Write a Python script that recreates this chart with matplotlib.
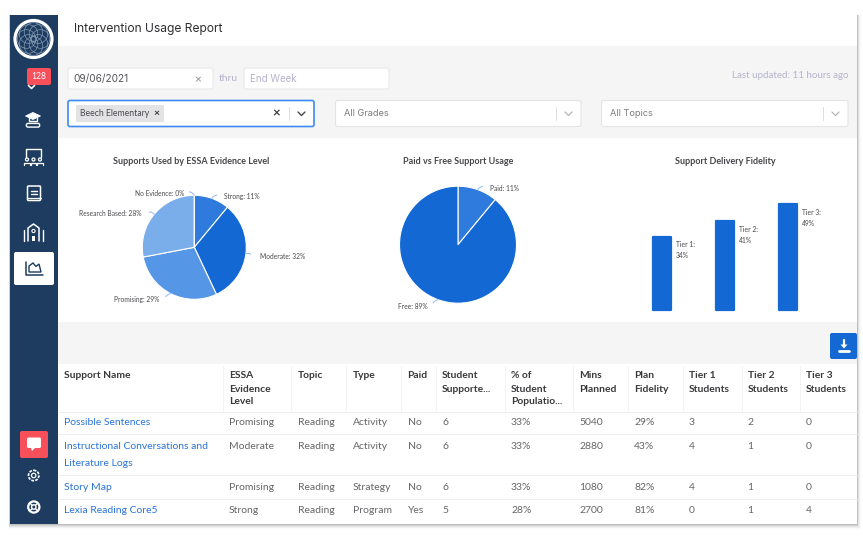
import numpy as np
import matplotlib
matplotlib.use("Agg")
import matplotlib.pyplot as plt
from matplotlib.patches import FancyBboxPatch, Rectangle, Circle, Polygon

# ---------- data ----------
evidence_labels = ["Strong", "Moderate", "Promising", "Research Based", "No Evidence"]
evidence_values = [11, 32, 29, 28, 0]
paid_labels = ["Paid", "Free"]
paid_values = [11, 89]
tier_labels = ["Tier 1", "Tier 2", "Tier 3"]
tier_values = [34, 41, 49]

table_headers = [["Support Name"], ["ESSA", "Evidence", "Level"], ["Topic"], ["Type"], ["Paid"],
                 ["Student", "Supporte..."], ["% of", "Student", "Populatio..."], ["Mins", "Planned"],
                 ["Plan", "Fidelity"], ["Tier 1", "Students"], ["Tier 2", "Students"], ["Tier 3", "Students"]]
row_1 = [["Possible Sentences"], "Promising", "Reading", "Activity", "No", "6", "33%", "5040", "29%", "3", "2", "0"]
row_2 = [["Instructional Conversations and", "Literature Logs"], "Moderate", "Reading", "Activity", "No", "6", "33%", "2880", "43%", "4", "1", "0"]
row_3 = [["Story Map"], "Promising", "Reading", "Strategy", "No", "6", "33%", "1080", "82%", "4", "1", "0"]
row_4 = [["Lexia Reading Core5"], "Strong", "Reading", "Program", "Yes", "5", "28%", "2700", "81%", "0", "1", "4"]

# ---------- styling ----------
W, H = 863, 540
NAVY = "#1d3c60"
BLUE = "#1368d4"
BLUE2 = "#2f7bdd"
BLUE3 = "#5596e6"
BLUE4 = "#7aaeea"
RED = "#f8505a"
GREY = "#f5f5f6"
DARK = "#3a3a3d"
MID = "#66666a"
LINK = "#2a74d8"
LILAC = "#b5b3cc"
BODY = "Lato"
UI = "Inter"

fig = plt.figure(figsize=(W / 100, H / 100), dpi=100, facecolor="white")
bg = fig.add_axes([0, 0, 1, 1], zorder=0)
bg.set_xlim(0, W)
bg.set_ylim(H, 0)
bg.axis("off")


def rect(x0, y0, x1, y1, color, z=1, **kw):
    bg.add_patch(Rectangle((x0, y0), x1 - x0, y1 - y0, facecolor=color, edgecolor="none", zorder=z, **kw))


def rbox(x0, y0, x1, y1, fc, ec="none", lw=0.8, r=2, z=2):
    bg.add_patch(FancyBboxPatch((x0 + r, y0 + r), x1 - x0 - 2 * r, y1 - y0 - 2 * r,
                                boxstyle=f"round,pad={r},rounding_size={r}",
                                facecolor=fc, edgecolor=ec, linewidth=lw, zorder=z))


def txt(x, y, s, size=7.45, color=MID, family=BODY, weight="normal", ha="left", va="center", z=6):
    bg.text(x, y + 1, s, fontsize=size, color=color, family=family, weight=weight, ha=ha, va=va, zorder=z)


def line(xs, ys, color="white", lw=1.1, z=5, **kw):
    bg.plot(xs, ys, color=color, lw=lw, zorder=z, solid_capstyle="round", **kw)


# shadow and card
for i, a in zip(range(5, 0, -1), [0.02, 0.04, 0.05, 0.07, 0.09]):
    rect(10 - i * 0.3, 15, 857 + i * 0.7, 524 + i * 0.9, "#000000", z=0.5, alpha=a)
rect(10, 15, 857, 524, "white")
rect(58, 46, 857, 138, GREY)
rect(58, 322, 857, 364, GREY)
rect(10, 15, 58, 524, NAVY, z=1.5)

# header
txt(74, 28, "Intervention Usage Report", size=8.7, color="#303033", family=UI)

# filters
rbox(68, 68, 213, 89, "white", "#e8e8ec")
txt(73.5, 78, "09/06/2021", size=7.3, color="#55555a", family=UI)
txt(197.5, 78.5, "×", size=8.5, color="#8a8a90", ha="center")
txt(219, 77.5, "thru", size=7.5, color=LILAC)
rbox(244, 68, 389, 89, "white", "#e8e8ec")
txt(250, 78, "End Week", size=7.0, color=LILAC, family=UI)
txt(848, 74.5, "Last updated: 11 hours ago", size=7.0, color=LILAC, ha="right")

rbox(68, 100.5, 314, 126.5, "white", "#3d8af0", lw=1.2)
rbox(76, 105, 164, 122, "#e3e3e6", r=1)
txt(80, 112.5, "Beech Elementary", size=6.2, color="#4a4a4e")
txt(156.5, 112.5, "×", size=7.5, color="#333336", ha="center", weight="bold")
txt(276, 112.5, "×", size=9.5, color="#3c3c40", ha="center", weight="bold")
line([289, 289], [107, 120], color="#dddddd", lw=0.7)
line([298, 301.5, 305], [112, 115.5, 112], color="#4a4a4e", lw=1.0)
for x0, x1, label in [(335.5, 581, "All Grades"), (601.5, 848, "All Topics")]:
    rbox(x0, 100.5, x1, 126.5, "white", "#e4e4e8")
    txt(x0 + 8, 112.5, label, size=6.6, color="#7a7a7e", family=UI)
    line([x1 - 25.5, x1 - 25.5], [107, 120], color="#dddddd", lw=0.7)
    line([x1 - 16, x1 - 12.5, x1 - 9], [112, 115.5, 112], color="#b5b5b8", lw=0.9)

# sidebar: logo
bg.add_patch(Circle((33.5, 39), 18.5, facecolor=NAVY, edgecolor="white", linewidth=2.3, zorder=3))
for a in np.deg2rad(np.arange(0, 360, 45)):
    bg.add_patch(Circle((33.5 + 7 * np.cos(a), 39 + 7 * np.sin(a)), 9.3, facecolor="none",
                        edgecolor="#8ea3bb", linewidth=0.45, zorder=4))
# sidebar: badge
rbox(27, 68, 51, 85, RED, r=2, z=3)
txt(39.3, 75.5, "128", size=6.2, color="white", ha="center", z=6)
line([28.5, 31.5, 34.5], [85.5, 88.5, 85.5], lw=1.2)
# sidebar: grad cap
bg.add_patch(Polygon([[25.5, 116], [33, 112.5], [40.5, 116], [33, 119.5]], closed=True, fc="white", ec="white", lw=0.6, zorder=5))
line([29, 29, 37, 37], [118, 121, 121, 118], lw=1.0)
bg.add_patch(FancyBboxPatch((27, 124), 12, 2.5, boxstyle="round,pad=0.6,rounding_size=1.5", fc="none", ec="white", lw=1.0, zorder=5))
# sidebar: classroom
line([26, 26, 41, 41], [157, 149, 149, 157], lw=1.0)
for cx in [27, 33.5, 40]:
    bg.add_patch(Circle((cx, 159.5), 1.5, fc="none", ec="white", lw=0.9, zorder=5))
    line([cx - 2.7, cx - 2.7, cx + 2.7, cx + 2.7], [165, 163, 163, 165], lw=0.9)
# sidebar: book
rbox(27.5, 186, 40.5, 200.5, "none", "white", lw=1.1, r=1, z=5)
line([27.5, 40.5], [197.5, 197.5], lw=0.9)
line([31, 37], [190.5, 190.5], lw=1.0)
line([31, 37], [193.5, 193.5], lw=1.0)
# sidebar: building
line([24, 24], [241, 230], lw=1.0)
line([43, 43], [241, 230], lw=1.0)
line([28, 28, 33.5, 39, 39], [241, 228, 224, 228, 241], lw=1.1)
bg.add_patch(Circle((33.5, 231), 1.6, fc="none", ec="white", lw=0.8, zorder=5))
rect(32, 236, 35, 241, "white", z=5)
# sidebar: active tab
rbox(14, 252, 54, 285, "white", r=2, z=3)
line([26, 26, 43], [261.5, 275, 275], color=NAVY, lw=1.1)
bg.add_patch(Polygon([[29, 272], [29, 266], [33, 263], [36, 266.5], [39, 264], [41, 272]], closed=True, fc="none", ec=NAVY, lw=1.0, zorder=5))
# sidebar: chat
rbox(20, 431, 48, 458, RED, r=2, z=3)
rbox(27, 437.5, 41, 448, "white", r=1.5, z=5)
bg.add_patch(Polygon([[31, 448], [35, 448], [32, 451]], closed=True, fc="white", ec="none", zorder=5))
# sidebar: gear
bg.add_patch(Circle((33.7, 475.5), 5.2, fc="none", ec="white", lw=1.2, ls=(0, (1.7, 0.7)), zorder=5))
bg.add_patch(Circle((33.7, 475.5), 2.2, fc="none", ec="white", lw=0.9, zorder=5))
# sidebar: lifebuoy
bg.add_patch(Circle((33.8, 507), 5.6, fc="none", ec="white", lw=1.6, zorder=5))
bg.add_patch(Circle((33.8, 507), 2.2, fc="none", ec="white", lw=1.0, zorder=5))
for d in np.deg2rad([45, 135, 225, 315]):
    line([33.8 + 2.2 * np.cos(d), 33.8 + 5.6 * np.cos(d)], [507 + 2.2 * np.sin(d), 507 + 5.6 * np.sin(d)], lw=1.0)

# chart titles
for cx, title in [(191.5, "Supports Used by ESSA Evidence Level"),
                  (458.5, "Paid vs Free Support Usage"),
                  (725.5, "Support Delivery Fidelity")]:
    txt(cx, 160, title, size=6.5, color="#46464a", weight="bold", ha="center")


def px_axes(cx, cy, half_w, half_h):
    ax = fig.add_axes([(cx - half_w) / W, 1 - (cy + half_h) / H, 2 * half_w / W, 2 * half_h / H], zorder=3)
    ax.patch.set_alpha(0)
    return ax


def draw_pie(cx, cy, radius, labels, values, colors, offsets):
    ax = px_axes(cx, cy, radius, radius)
    wedges, _ = ax.pie(values, startangle=90, counterclock=False, colors=colors, radius=1,
                       wedgeprops=dict(edgecolor="white", linewidth=0.8))
    ax.set_xlim(-1, 1)
    ax.set_ylim(-1, 1)
    for wedge, label, value, (dx, dy, ha) in zip(wedges, labels, values, offsets):
        mid = np.deg2rad((wedge.theta1 + wedge.theta2) / 2)
        xy = (np.cos(mid), np.sin(mid))
        ax.annotate(f"{label}: {value}%", xy=xy, xytext=(dx * 0.72, -dy * 0.72), textcoords="offset points",
                    fontsize=4.75, color="#4a4a4e", family=BODY, ha=ha, va="center", annotation_clip=False)
        sign = 1 if ha == "left" else -1
        ax.annotate("", xy=xy, xytext=(sign * 5 * 0.72, np.sin(mid) * 3.5 * 0.72), textcoords="offset points",
                    annotation_clip=False,
                    arrowprops=dict(arrowstyle="-", color="#8fbcf0", lw=0.7, shrinkA=0, shrinkB=0,
                                    connectionstyle=f"arc3,rad={0.25 * sign}"))
    return ax


# pixel offsets of each label from its wedge's outer mid-point
draw_pie(194.3, 247.3, 52, evidence_labels, evidence_values,
         [BLUE2, BLUE, BLUE3, BLUE4, BLUE4],
         [(12, -2, "left"), (14, 3, "left"), (-11, 6, "right"), (-13, -1, "right"), (-10, -2, "right")])
draw_pie(458, 244.7, 58.5, paid_labels, paid_values, [BLUE2, BLUE],
         [(12, -1, "left"), (-11, 7, "right")])

# bars
bar_spacing = 63.2
bar_scale = 2.16
bar_cy = (150 + 310) / 2
bax = px_axes(661.7 + bar_spacing, bar_cy, bar_spacing * 1.5, 80)
bar_x = np.arange(len(tier_values))
bars = bax.bar(bar_x, tier_values, width=18 / bar_spacing, color=BLUE, edgecolor=BLUE, linewidth=1.6,
               joinstyle="round", clip_on=False)
bax.set_xlim(-0.5, 2.5)
bax.set_ylim(0, 160 / bar_scale)
bax.axis("off")
for rect_, label, value in zip(bars, tier_labels, tier_values):
    bax.annotate(f"{label}:\n{value}%", xy=(rect_.get_x() + rect_.get_width(), value), xytext=(5 * 0.72, -4.5 * 0.72),
                 textcoords="offset points", fontsize=4.9, color="#4a4a4e", family=BODY, ha="left", va="top",
                 linespacing=1.65)

# download button
rbox(830, 333, 857, 359, BLUE, r=2, z=3)
line([844, 844], [340, 346], lw=1.6)
bg.add_patch(Polygon([[840.5, 344.5], [847.5, 344.5], [844, 348.5]], closed=True, fc="white", ec="none", zorder=5))
line([839, 849], [350.5, 350.5], lw=2.0)

# table
col_x = [64, 229, 297.5, 352.5, 407.5, 442, 511, 579, 634, 689, 747.5, 806]
col_div = [223, 291, 346, 401, 436, 505, 573, 628, 683, 741.5, 800]
header_y = [375, 388, 401]
row_lines = [411.7, 434.3, 475.3, 498.7]
rows = [row_1, row_2, row_3, row_4]
row_y = [421.7, 445.9, 486.5, 509.9]
for xd in col_div:
    line([xd, xd], [366, 411], color="#f3f3f5", lw=0.7, z=2)
for yl in row_lines:
    line([58, 857], [yl, yl], color="#eeeef0", lw=0.7, z=2)
for x, hdr in zip(col_x, table_headers):
    for y, s in zip(header_y, hdr):
        txt(x, y, s, size=7.4, color=DARK, weight="bold")
for y0, row in zip(row_y, rows):
    for i, s in enumerate(row[0]):
        txt(col_x[0], y0 + i * 16.3, s, size=7.45, color=LINK)
    for x, s in zip(col_x[1:], row[1:]):
        txt(x, y0, s, size=7.45, color=MID)

fig.savefig("out.png", dpi=100, facecolor="white")
